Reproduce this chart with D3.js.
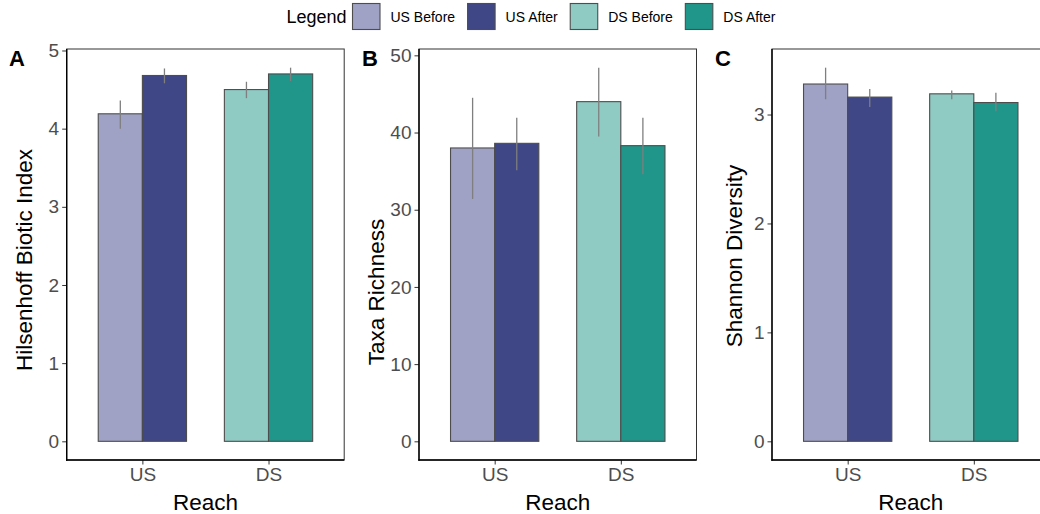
<!DOCTYPE html>
<html>
<head>
<meta charset="utf-8">
<script src="https://cdn.jsdelivr.net/npm/d3@7"></script>
<style>
  html, body { margin: 0; padding: 0; background: #fff; }
  svg { display: block; font-family: "Liberation Sans", Arial, sans-serif; }
</style>
</head>
<body>
<svg id="chart" width="1040" height="514"></svg>
<script>
// Reach categories and sampling groups
const reaches = ["US", "DS"];
const groups = ["US Before", "US After", "DS Before", "DS After"];
const groupReach = ["US", "US", "DS", "DS"];
const groupPeriod = ["Before", "After", "Before", "After"];
const groupColors = ["#9fa2c4", "#3f4787", "#8fcac3", "#20958a"];

// Hilsenhoff Biotic Index: mean, lower and upper error
const hbiMean = [4.19, 4.68, 4.50, 4.70];
const hbiLow  = [4.00, 4.58, 4.39, 4.61];
const hbiHigh = [4.36, 4.77, 4.60, 4.78];

// Taxa Richness
const richMean = [38.0, 38.6, 44.0, 38.3];
const richLow  = [31.4, 35.1, 39.5, 34.6];
const richHigh = [44.5, 41.9, 48.4, 41.9];

// Shannon Diversity
const shanMean = [3.28, 3.16, 3.19, 3.11];
const shanLow  = [3.14, 3.07, 3.14, 3.03];
const shanHigh = [3.43, 3.235, 3.22, 3.20];

const hbiTicks = [0, 1, 2, 3, 4, 5];
const richTicks = [0, 10, 20, 30, 40, 50];
const shanTicks = [0, 1, 2, 3];

const panels = [
  { letter: "A", title: "Hilsenhoff Biotic Index", mean: hbiMean, low: hbiLow, high: hbiHigh, ticks: hbiTicks, left: 66.7, titleX: 32, titleY: 260, letterX: 9 },
  { letter: "B", title: "Taxa Richness", mean: richMean, low: richLow, high: richHigh, ticks: richTicks, left: 419, titleX: 384, titleY: 292, letterX: 362 },
  { letter: "C", title: "Shannon Diversity", mean: shanMean, low: shanLow, high: shanHigh, ticks: shanTicks, left: 772, titleX: 742, titleY: 256, letterX: 715 }
];

const svg = d3.select("#chart");
const plotTop = 49, plotBottom = 460, plotWidth = 277.5;
const tickFont = 19, titleFont = 22.5;

panels.forEach(p => {
  const g = svg.append("g");
  const x0 = p.left, x1 = p.left + plotWidth;

  // discrete x scale with 0.6 unit padding on both sides
  const xPos = d3.scaleLinear().domain([0.4, 2.6]).range([x0, x1]);
  const reachIndex = r => reaches.indexOf(r) + 1;
  const dodge = 0.35;

  // continuous y scale with 5% expansion over data range (0..max error)
  const dMax = d3.max(p.high);
  const pad = dMax * 0.05;
  const y = d3.scaleLinear().domain([0 - pad, dMax + pad]).range([plotBottom, plotTop]);

  // panel border
  g.append("rect")
    .attr("x", x0).attr("y", plotTop)
    .attr("width", plotWidth).attr("height", plotBottom - plotTop)
    .attr("fill", "none").attr("stroke", "#333").attr("stroke-width", 1);

  // bars
  const rows = groups.map((name, i) => ({
    name, reach: groupReach[i], period: groupPeriod[i], color: groupColors[i],
    mean: p.mean[i], low: p.low[i], high: p.high[i]
  }));
  const barLeft = d => {
    const c = reachIndex(d.reach);
    return d.period === "Before" ? xPos(c - dodge) : xPos(c);
  };
  const barW = xPos(1 + dodge) - xPos(1);

  g.selectAll("rect.bar").data(rows).join("rect")
    .attr("class", "bar")
    .attr("x", barLeft)
    .attr("y", d => y(d.mean))
    .attr("width", barW)
    .attr("height", d => y(0) - y(d.mean))
    .attr("fill", d => d.color)
    .attr("stroke", "#4d4d4d")
    .attr("stroke-width", 1.1);

  // error bars
  g.selectAll("line.err").data(rows).join("line")
    .attr("class", "err")
    .attr("x1", d => barLeft(d) + barW / 2)
    .attr("x2", d => barLeft(d) + barW / 2)
    .attr("y1", d => y(d.low))
    .attr("y2", d => y(d.high))
    .attr("stroke", "#7f7f7f")
    .attr("stroke-width", 1.3);

  // y axis
  const yAxis = d3.axisLeft(y).tickValues(p.ticks).tickSize(4.5).tickPadding(3).tickFormat(d3.format("d"));
  const ya = g.append("g").attr("transform", `translate(${x0},0)`).call(yAxis);
  ya.select(".domain").remove();
  ya.selectAll(".tick line").attr("stroke", "#333").attr("stroke-width", 1);
  ya.selectAll(".tick text").attr("fill", "#4d4d4d").attr("font-size", tickFont).attr("font-family", "Liberation Sans, Arial, sans-serif");

  // x axis
  const xAxis = d3.axisBottom(xPos).tickValues([1, 2]).tickSize(4.5).tickPadding(3).tickFormat(d => reaches[d - 1]);
  const xa = g.append("g").attr("transform", `translate(0,${plotBottom})`).call(xAxis);
  xa.select(".domain").remove();
  xa.selectAll(".tick line").attr("stroke", "#333").attr("stroke-width", 1);
  xa.selectAll(".tick text").attr("fill", "#4d4d4d").attr("font-size", tickFont).attr("font-family", "Liberation Sans, Arial, sans-serif");

  // axis lines
  g.append("line").attr("x1", x0).attr("x2", x0).attr("y1", plotTop).attr("y2", plotBottom + 0.7)
    .attr("stroke", "#000").attr("stroke-width", 1.4);
  g.append("line").attr("x1", x0 - 0.7).attr("x2", x1).attr("y1", plotBottom).attr("y2", plotBottom)
    .attr("stroke", "#000").attr("stroke-width", 1.4);

  // axis titles
  g.append("text")
    .attr("x", (x0 + x1) / 2).attr("y", 509.5)
    .attr("text-anchor", "middle").attr("font-size", titleFont).attr("fill", "#000")
    .text("Reach");
  g.append("text")
    .attr("transform", `translate(${p.titleX},${p.titleY}) rotate(-90)`)
    .attr("text-anchor", "middle").attr("font-size", titleFont).attr("fill", "#000")
    .text(p.title);

  // panel letter
  g.append("text")
    .attr("x", p.letterX).attr("y", 66)
    .attr("font-size", 22).attr("font-weight", "bold").attr("fill", "#000")
    .text(p.letter);
});

// legend
const legend = svg.append("g");
legend.append("text").attr("x", 286.5).attr("y", 22.5)
  .attr("font-size", 18).attr("fill", "#000").text("Legend");
let cursor = 352.5;
groups.forEach((name, i) => {
  legend.append("rect")
    .attr("x", cursor).attr("y", 3.5).attr("width", 27.5).attr("height", 26)
    .attr("fill", groupColors[i]).attr("stroke", "#4d4d4d").attr("stroke-width", 1.1);
  const t = legend.append("text")
    .attr("x", cursor + 38).attr("y", 21.5)
    .attr("font-size", 14).attr("fill", "#000").text(name);
  cursor = cursor + 38 + t.node().getComputedTextLength() + 12.5;
});
</script>
</body>
</html>
